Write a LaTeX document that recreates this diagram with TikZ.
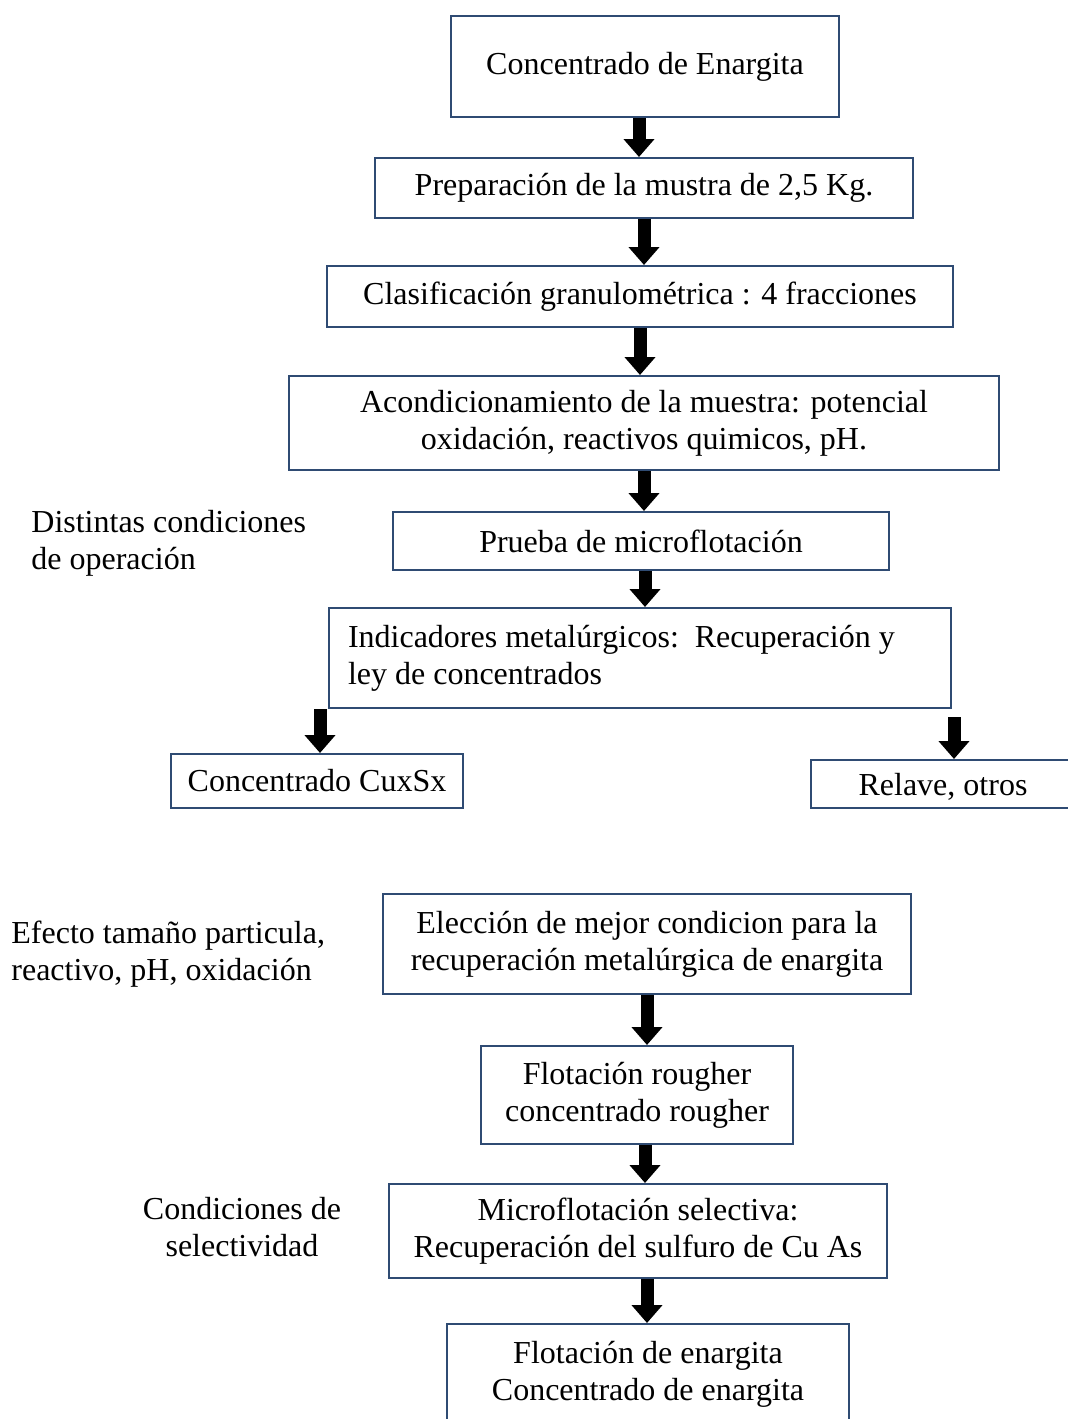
\documentclass[tikz,border=0pt]{standalone}
\usepackage{fontspec}
\setmainfont{Liberation Serif}
\usetikzlibrary{arrows.meta}
\definecolor{boxline}{RGB}{47,75,115}

\begin{document}
\begin{tikzpicture}
        [x=0.5pt,y=-0.5pt,
         font=\fontsize{16}{18.5}\selectfont,
         caja/.style={draw=boxline,line width=1pt,inner sep=0pt,align=center},
         flecha/.style={line width=6.5pt,-{Triangle[width=15pt,length=9pt]}},
         nota/.style={inner sep=0pt}]
      \clip (0,0) rectangle (1068,1419);
      % parte superior
      \node[caja,minimum width=194pt,minimum height=50.5pt] (conc)   at (645,66.5) {Concentrado de Enargita};
      \node[caja,minimum width=269pt,minimum height=30pt]   (prep)   at (644,188)  {Preparación de la mustra de 2,5 Kg.};
      \node[caja,minimum width=313pt,minimum height=30.5pt] (clas)   at (640,296.5) {Clasificación granulométrica : 4 fracciones};
      \node[caja,minimum width=355pt,minimum height=47pt]   (acon)   at (644,423)  {Acondicionamiento de la muestra: potencial\\oxidación, reactivos quimicos, pH.};
      \node[caja,minimum width=248pt,minimum height=29pt]   (prueba) at (641,541)  {Prueba de microflotación};
      \node[caja,align=flush left,text width=292pt,minimum width=311pt,minimum height=50pt] (ind) at (640,658) {Indicadores metalúrgicos:\ \ Recuperación y\\ley de concentrados};
      \node[caja,minimum width=146pt,minimum height=27pt]   (cux)    at (317,781)  {Concentrado CuxSx};
      \node[caja,minimum width=132pt,minimum height=24pt,text depth=-6pt] (rel) at (943,784) {Relave, otros};
      \node[nota,align=flush left,anchor=west] (distintas) at (31,543) {Distintas condiciones\\de operación};
      % parte inferior
      \node[caja,minimum width=264pt,minimum height=50pt]   (elec)   at (647,944)  {Elección de mejor condicion para la\\recuperación metalúrgica  de enargita};
      \node[caja,minimum width=156pt,minimum height=49pt]   (rough)  at (637,1095) {Flotación rougher\\concentrado rougher};
      \node[caja,minimum width=249pt,minimum height=47pt]   (micro)  at (638,1231) {Microflotación selectiva:\\Recuperación del sulfuro de Cu As};
      \node[caja,minimum width=201pt,minimum height=50pt]   (flot)   at (648,1374) {Flotación de enargita\\Concentrado de enargita};
      \node[nota,align=flush left,anchor=west] (efecto) at (11,954) {Efecto tamaño particula,\\reactivo, pH, oxidación};
      \node[nota,align=center] (selec) at (242,1227) {Condiciones de\\selectividad};
      % flechas
      \draw[flecha] ([xshift=-3pt]conc.south) -- ([xshift=-3pt]conc.south |- prep.north);
      \draw[flecha] (prep.south) -- (prep.south |- clas.north);
      \draw[flecha] (clas.south) -- (clas.south |- acon.north);
      \draw[flecha] (acon.south) -- (acon.south |- prueba.north);
      \draw[flecha] ([xshift=2pt]prueba.south) -- ([xshift=2pt]prueba.south |- ind.north);
      \draw[flecha] ([xshift=1.5pt]ind.south -| cux.north) -- ([xshift=1.5pt]cux.north);
      \draw[flecha,shorten <=4pt] ([xshift=5.5pt]ind.south -| rel.north) -- ([xshift=5.5pt]rel.north);
      \draw[flecha] (elec.south) -- (elec.south |- rough.north);
      \draw[flecha] ([xshift=4pt]rough.south) -- ([xshift=4pt]rough.south |- micro.north);
      \draw[flecha] ([xshift=4.5pt]micro.south) -- ([xshift=4.5pt]micro.south |- flot.north);
\end{tikzpicture}
\end{document}
